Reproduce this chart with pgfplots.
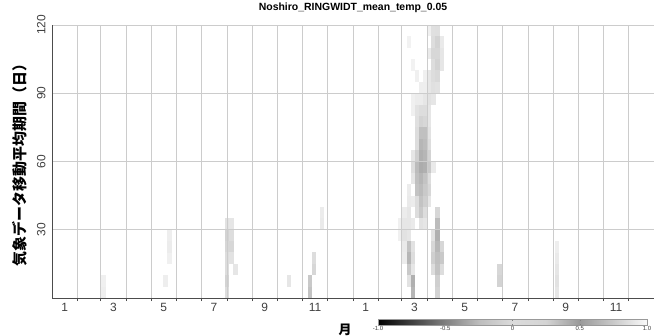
\documentclass[border=0pt]{standalone}
\usepackage{fontspec}
\setmainfont{Liberation Sans}
\newfontfamily\cjk{Noto Sans CJK JP}
\usepackage{pgfplots}
\pgfplotsset{compat=1.18}
\usepackage{pgfplotstable}
\usetikzlibrary{calc}
\pgfdeclareplotmark{cell}{\pgfpathrectangle{\pgfpoint{-2.15bp}{-5.75bp}}{\pgfpoint{4.3bp}{11.5bp}}\pgfusepathqfill}

\pgfplotstableread{
x y v
462.5 117.5 0.87
467.5 117.5 0.86
457.5 117.5 0.95
462.5 112.5 0.85
467.5 112.5 0.80
472.5 112.5 0.92
457.5 107.5 0.92
462.5 107.5 0.82
467.5 107.5 0.82
472.5 107.5 0.90
462.5 102.5 0.85
467.5 102.5 0.80
472.5 102.5 0.90
452.5 97.5 0.95
457.5 97.5 0.90
462.5 97.5 0.85
467.5 97.5 0.83
452.5 92.5 0.94
457.5 92.5 0.90
462.5 92.5 0.87
467.5 92.5 0.88
447.5 87.5 0.93
452.5 87.5 0.90
457.5 87.5 0.88
462.5 87.5 0.90
432.5 112.5 0.96
437.5 102.5 0.96
442.5 97.5 0.95
447.5 92.5 0.94
437.5 87.5 0.95
442.5 87.5 0.93
437.5 82.5 0.95
442.5 82.5 0.88
447.5 82.5 0.85
452.5 82.5 0.85
457.5 82.5 0.90
442.5 77.5 0.87
447.5 77.5 0.80
452.5 77.5 0.82
457.5 77.5 0.90
442.5 72.5 0.85
447.5 72.5 0.70
452.5 72.5 0.70
457.5 72.5 0.88
442.5 67.5 0.85
447.5 67.5 0.65
452.5 67.5 0.68
457.5 67.5 0.85
437.5 62.5 0.90
442.5 62.5 0.78
447.5 62.5 0.62
452.5 62.5 0.65
457.5 62.5 0.80
437.5 57.5 0.85
442.5 57.5 0.68
447.5 57.5 0.60
452.5 57.5 0.62
457.5 57.5 0.75
462.5 57.5 0.92
437.5 52.5 0.90
442.5 52.5 0.70
447.5 52.5 0.65
452.5 52.5 0.72
457.5 52.5 0.85
432.5 47.5 0.93
442.5 47.5 0.72
447.5 47.5 0.68
452.5 47.5 0.75
457.5 47.5 0.82
432.5 42.5 0.92
437.5 42.5 0.93
442.5 42.5 0.85
447.5 42.5 0.72
452.5 42.5 0.78
457.5 42.5 0.90
427.5 37.5 0.93
432.5 37.5 0.90
442.5 37.5 0.85
447.5 37.5 0.75
452.5 37.5 0.85
467.5 37.5 0.82
422.5 32.5 0.95
427.5 32.5 0.90
432.5 32.5 0.90
437.5 32.5 0.92
447.5 32.5 0.88
452.5 32.5 0.90
467.5 32.5 0.68
422.5 27.5 0.95
427.5 27.5 0.88
432.5 27.5 0.90
462.5 27.5 0.88
467.5 27.5 0.62
427.5 22.5 0.92
432.5 22.5 0.72
437.5 22.5 0.88
462.5 22.5 0.82
467.5 22.5 0.66
472.5 22.5 0.82
427.5 17.5 0.93
432.5 17.5 0.65
437.5 17.5 0.85
462.5 17.5 0.78
467.5 17.5 0.70
472.5 17.5 0.75
432.5 12.5 0.75
437.5 12.5 0.90
462.5 12.5 0.85
467.5 12.5 0.72
472.5 12.5 0.85
432.5 7.5 0.88
437.5 7.5 0.62
467.5 7.5 0.78
437.5 2.5 0.65
467.5 2.5 0.80
212.5 32.5 0.88
217.5 32.5 0.90
212.5 27.5 0.80
217.5 27.5 0.85
212.5 22.5 0.82
217.5 22.5 0.82
212.5 17.5 0.85
217.5 17.5 0.88
212.5 12.5 0.85
222.5 12.5 0.90
212.5 7.5 0.80
212.5 2.5 0.85
287.5 7.5 0.90
312.5 2.5 0.72
312.5 7.5 0.75
317.5 12.5 0.82
317.5 17.5 0.85
327.5 32.5 0.92
327.5 37.5 0.93
142.5 17.5 0.95
142.5 22.5 0.93
142.5 27.5 0.94
137.5 7.5 0.94
62.5 2.5 0.94
62.5 7.5 0.95
542.5 7.5 0.80
542.5 12.5 0.82
612.5 2.5 0.90
612.5 7.5 0.88
612.5 12.5 0.90
612.5 17.5 0.92
612.5 22.5 0.94
}\cells

\begin{document}
\begin{tikzpicture}
\useasboundingbox (0,0) rectangle (654bp,336bp);
\begin{axis}[
  at={(52bp,38bp)}, anchor=south west,
  scale only axis, width=602bp, height=273bp,
  xmin=0, xmax=730, ymin=0, ymax=120,
  axis on top,
  axis lines*=left,
  axis line style={black!70, line width=0.8bp},
  clip marker paths=true,
  colormap={rgray}{gray(0cm)=(0); gray(1cm)=(0.25); gray(2cm)=(0.5); gray(3cm)=(0.74); gray(4cm)=(0.86); gray(5cm)=(0.83); gray(6cm)=(0.6); gray(7cm)=(0.79); gray(8cm)=(0.98)},
  point meta min=-1, point meta max=1,
  xtick={31,59,90,120,151,181,212,243,273,304,334,365,396,424,455,485,516,546,577,608,638,669,699,730},
  xticklabels={},
  extra x ticks={15.5,74.5,135.5,196.5,258,319,380.5,439.5,500.5,561.5,623,684},
  extra x tick labels={1,3,5,7,9,11,1,3,5,7,9,11},
  extra x tick style={grid=none, major tick length=0pt, xticklabel style={yshift=-1.5bp}},
  ytick={30,60,90,120},
  yticklabel style={rotate=90, anchor=south},
  ytick style={draw=none},
  tick align=outside,
  major tick length=3bp,
  x tick style={black!70, line width=0.6bp},
  grid=major,
  grid style={black!20, line width=0.6bp},
  ticklabel style={font=\fontsize{12}{12}\selectfont, text=black!75},
  /pgf/number format/assume math mode=true,
  title={Noshiro\_RINGWIDT\_mean\_temp\_0.05},
  every axis title/.style={at={(0.5,1)}, anchor=base, yshift=14bp, font=\bfseries\fontsize{10.5}{10.5}\selectfont},
  ylabel={\cjk\bfseries 気象データ移動平均期間（日）},
  every axis y label/.style={at={(axis description cs:0,0.5)}, xshift=-32bp, rotate=90, anchor=center, font=\fontsize{15}{15}\selectfont},
  xlabel={\cjk\bfseries 月},
  every axis x label/.style={at={(axis description cs:0.487,0)}, yshift=-32bp, anchor=center, font=\fontsize{13}{13}\selectfont},
  colorbar horizontal,
  colorbar style={
    at={($(parent axis.south west)+(326bp,-13bp)$)},
    anchor=north west,
    scale only axis,
    width=269bp, height=6bp,
    xtick={-1,-0.5,0,0.5,1},
    xticklabels={-1.0,-0.5,0,0.5,1.0},
    xticklabel style={font=\fontsize{6}{6}\selectfont, inner sep=0.5bp},
    major tick length=1.5bp,
    axis line style={black!40},
    grid=none,
  },
]
\addplot[scatter, only marks, mark=cell, scatter src=explicit,
  scatter/use mapped color={draw=none, fill=mapped color}]
  table[x=x, y=y, meta=v] {\cells};
\end{axis}
\end{tikzpicture}
\end{document}
